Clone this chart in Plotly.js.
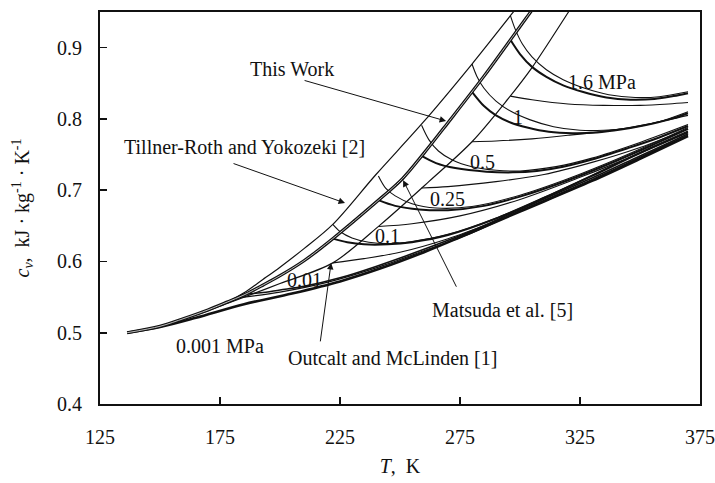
<!DOCTYPE html>
<html>
<head>
<meta charset="utf-8">
<script src="https://cdn.plot.ly/plotly-3.0.1.min.js"></script>
<style>html,body{margin:0;padding:0;background:#fff;}#chart{width:715px;height:483px;}</style>
</head>
<body>
<div id="chart"></div>
<script>
// ---- Saturated-vapour cv lines of the three models (T in K, cv in kJ/(kg K)) ----
const T_satA  = [136.3,150,160,170,178,185,193,200,210,222,240,259.6,280,297,302];
const cv_satA = [0.500,0.509,0.520,0.532,0.543,0.556,0.575,0.592,0.618,0.652,0.722,0.795,0.877,0.949,0.970];
const T_satB  = [136.3,150,160,170,178,185,193,200,210,222,240,251,260,269.6,285,304.2,308];
const cv_satB = [0.500,0.509,0.520,0.532,0.543,0.553,0.567,0.580,0.601,0.632,0.683,0.716,0.752,0.793,0.860,0.949,0.966];
const T_satC  = [136.3,150,160,170,178,185,200,222,242,262,280,295,305,320,324];
const cv_satC = [0.500,0.509,0.520,0.531,0.541,0.550,0.569,0.598,0.652,0.712,0.768,0.828,0.872,0.949,0.970];

// ---- Isobars ----
const T_p0001  = [136.3,150,165,185,205,225,241.7,260,275,300,330,350,370];
const cv_p0001 = [0.500,0.508,0.521,0.540,0.555,0.572,0.590,0.613,0.634,0.670,0.713,0.744,0.776];

const T_p001B  = [185,192,200,210,225,240,260,280,300,330,350,370];
const cv_p001B = [0.554,0.556,0.560,0.565,0.577,0.593,0.617,0.643,0.673,0.717,0.748,0.779];
const T_p001C  = [185,200,220,240,260,280,300,330,350,370];
const cv_p001C = [0.550,0.557,0.571,0.591,0.615,0.640,0.671,0.715,0.746,0.777];

const T_p01B  = [222,228,235,245,255,270,290,310,330,350,370];
const cv_p01B = [0.632,0.627,0.624,0.624,0.627,0.637,0.660,0.689,0.720,0.752,0.781];
const T_p01A  = [222,225,230,237,245,255,270,290,310,330,350,370];
const cv_p01A = [0.652,0.642,0.633,0.627,0.625,0.628,0.638,0.661,0.690,0.721,0.753,0.783];
const T_p01C  = [222,235,250,270,290,310,330,350,370];
const cv_p01C = [0.598,0.604,0.613,0.632,0.657,0.684,0.714,0.746,0.779];

const T_p025B  = [241,248,258,270,285,300,320,340,355,370];
const cv_p025B = [0.686,0.678,0.673,0.672,0.678,0.691,0.714,0.741,0.763,0.786];
const T_p025A  = [241,244,248,255,265,280,300,320,340,355,370];
const cv_p025A = [0.720,0.703,0.692,0.681,0.675,0.677,0.693,0.716,0.743,0.765,0.788];
const T_p025C  = [241,255,275,300,325,350,370];
const cv_p025C = [0.649,0.653,0.664,0.687,0.718,0.752,0.782];

const T_p05B  = [259,265,273,286,297,307,318,330,345,358,370];
const cv_p05B = [0.748,0.738,0.731,0.726,0.725,0.727,0.733,0.743,0.759,0.774,0.790];
const T_p05A  = [259,262,266,272,280,290,300,315,330,350,370];
const cv_p05A = [0.791,0.771,0.755,0.742,0.733,0.728,0.727,0.733,0.745,0.767,0.792];
const T_p05C  = [259,270,290,310,330,350,370];
const cv_p05C = [0.703,0.705,0.712,0.722,0.739,0.760,0.786];

const T_p1B  = [280,285,290,296,303,312,322,332,342,352,362,370];
const cv_p1B = [0.838,0.818,0.805,0.795,0.788,0.782,0.780,0.781,0.785,0.791,0.799,0.808];
const T_p1A  = [280,282,285,290,296,304,314,325,335,345,358,370];
const cv_p1A = [0.877,0.860,0.843,0.825,0.811,0.799,0.789,0.784,0.784,0.787,0.796,0.810];
const T_p1C  = [280,290,305,320,340,355,370];
const cv_p1C = [0.768,0.769,0.772,0.777,0.785,0.794,0.805];

const T_p16B  = [296,300,305,311,318,326,336,346,356,364,370];
const cv_p16B = [0.911,0.891,0.873,0.859,0.847,0.838,0.830,0.827,0.828,0.832,0.836];
const T_p16A  = [296,298,301,305,311,318,327,337,348,358,370];
const cv_p16A = [0.945,0.926,0.905,0.887,0.869,0.855,0.843,0.834,0.830,0.831,0.838];
const T_p16C  = [296,305,320,335,350,362,370];
const cv_p16C = [0.832,0.827,0.821,0.819,0.819,0.821,0.823];

// ---- Axis ticks ----
const xTicks = [125,175,225,275,325,375];
const yTicks = [0.4,0.5,0.6,0.7,0.8,0.9];

const FONT = '"Liberation Serif", "Times New Roman", "DejaVu Serif", serif';
const INK = '#111';

function line(x, y, w, c) {
  return {x: x, y: y, type: 'scatter', mode: 'lines', hoverinfo: 'skip', showlegend: false,
          line: {color: c || INK, width: w, shape: 'spline', smoothing: 0.9}};
}

const traces = [
  line(T_p0001, cv_p0001, 2.6),
  line(T_p001C, cv_p001C, 1.2),
  line(T_p001B, cv_p001B, 1.6),
  line(T_p01C, cv_p01C, 1.1),
  line(T_p01A, cv_p01A, 1.1),
  line(T_p01B, cv_p01B, 2.0),
  line(T_p025C, cv_p025C, 1.1),
  line(T_p025A, cv_p025A, 1.1),
  line(T_p025B, cv_p025B, 2.0),
  line(T_p05C, cv_p05C, 1.1),
  line(T_p05A, cv_p05A, 1.1),
  line(T_p05B, cv_p05B, 2.0),
  line(T_p1C, cv_p1C, 1.1),
  line(T_p1A, cv_p1A, 1.1),
  line(T_p1B, cv_p1B, 2.0),
  line(T_p16C, cv_p16C, 1.1),
  line(T_p16A, cv_p16A, 1.1),
  line(T_p16B, cv_p16B, 2.0),
  line(T_satA, cv_satA, 1.2),
  line(T_satC, cv_satC, 1.2),
  line(T_satB, cv_satB, 3.2),
  line(T_satB, cv_satB, 1.0, '#bdbdbd')
];

function lab(x, y, t) {
  return {x: x, y: y, xref: 'x', yref: 'y', text: t, showarrow: false,
          xanchor: 'center', yanchor: 'middle', font: {family: FONT, size: 20, color: INK}};
}
function arrow(x, y, ax, ay) {
  return {x: x, y: y, xref: 'x', yref: 'y', ax: ax, ay: ay, text: '', showarrow: true,
          arrowhead: 2, arrowsize: 1.3, arrowwidth: 1, arrowcolor: INK, standoff: 0};
}

const annotations = [
  lab(205, 0.870, 'This Work'),
  lab(185, 0.7606, 'Tillner-Roth and Yokozeki [2]'),
  lab(334.2, 0.8518, '1.6 MPa'),
  lab(299.2, 0.8027, '1'),
  lab(284.2, 0.7396, '0.5'),
  lab(269.6, 0.6876, '0.25'),
  lab(244.6, 0.6357, '0.1'),
  lab(210.4, 0.574, '0.01'),
  lab(175, 0.4814, '0.001 MPa'),
  lab(246.7, 0.4645, 'Outcalt and McLinden [1]'),
  lab(292.9, 0.5319, 'Matsuda et al. [5]'),
  arrow(269.2, 0.797, -143, -41),
  arrow(227.1, 0.682, -113, -40),
  arrow(251.3, 0.714, 54, 108),
  arrow(221.3, 0.598, -11, 80)
];

const layout = {
  width: 715, height: 483,
  margin: {l: 100, r: 15, t: 12, b: 79},
  paper_bgcolor: '#fff', plot_bgcolor: '#fff',
  font: {family: FONT, size: 20, color: INK},
  showlegend: false,
  xaxis: {
    range: [125, 375], tickvals: xTicks, ticktext: xTicks.map(String),
    showgrid: false, zeroline: false, showline: true, linecolor: INK, linewidth: 2, mirror: true,
    ticks: 'inside', ticklen: 7, tickwidth: 1.6, tickcolor: INK,
    tickfont: {family: FONT, size: 20, color: INK}, ticklabelstandoff: 14,
    title: {text: '<i>T</i>,  K', font: {family: FONT, size: 20, color: INK}, standoff: 12}
  },
  yaxis: {
    range: [0.4, 0.95], tickvals: yTicks, ticktext: yTicks.map(v => v.toFixed(1)),
    showgrid: false, zeroline: false, showline: true, linecolor: INK, linewidth: 2, mirror: true,
    ticks: 'inside', ticklen: 7, tickwidth: 1.6, tickcolor: INK,
    tickfont: {family: FONT, size: 20, color: INK}, ticklabelstandoff: 12,
    title: {text: '<i>c<sub>v</sub></i>,  kJ · kg<sup>-1</sup> · K<sup>-1</sup>', font: {family: FONT, size: 20, color: INK}, standoff: 22}
  },
  annotations: annotations
};

Plotly.newPlot('chart', traces, layout, {staticPlot: true, displayModeBar: false});
</script>
</body>
</html>
